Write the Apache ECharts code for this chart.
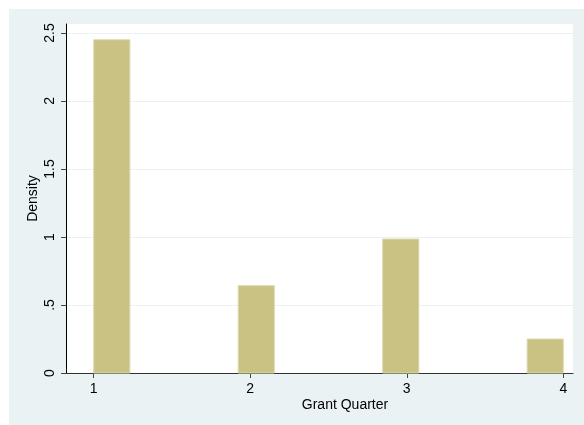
<!DOCTYPE html>
<html>
<head>
<meta charset="utf-8">
<script src="https://cdn.jsdelivr.net/npm/echarts@6/dist/echarts.min.js"></script>
<style>
html,body{margin:0;padding:0;background:#ffffff;}
#chart{width:584px;height:425px;}
</style>
</head>
<body>
<div id="chart"></div>
<script>
// Histogram bins (Grant Quarter) and densities
const binStart = [1, 1.923, 2.846, 3.769];
const binEnd = [1.231, 2.154, 3.077, 4];
const density = [2.45, 0.642, 0.985, 0.25];
const xTicks = [1, 2, 3, 4];
const yTicks = [0, 0.5, 1, 1.5, 2, 2.5];
const xTitle = 'Grant Quarter';
const yTitle = 'Density';

const bars = binStart.map((s, i) => [s, binEnd[i], density[i]]);

function fmtY(v) {
  if (v === 0) return '0';
  let s = String(+v.toFixed(2));
  if (s.startsWith('0.')) s = s.slice(1);
  return s;
}

const chart = echarts.init(document.getElementById('chart'), null, {renderer: 'canvas'});
const font = 'Liberation Sans, Arial, sans-serif';
chart.setOption({
  animation: false,
  backgroundColor: '#ffffff',
  graphic: [
    {type: 'rect', z: -10, shape: {x: 9, y: 9, width: 575, height: 416}, style: {fill: '#EAF2F3'}},
    {type: 'text', x: 345, y: 405, style: {text: xTitle, fontFamily: font, fontSize: 14, fill: '#000', align: 'center', verticalAlign: 'middle'}}
  ],
  grid: {left: 66, right: 11, top: 24, bottom: 52, show: true, backgroundColor: '#ffffff', borderWidth: 0},
  xAxis: {
    type: 'value', min: 0.823, max: 4.062,
    axisLine: {show: true, onZero: false, lineStyle: {color: '#333', width: 1}},
    axisTick: {show: true, length: 5, customValues: xTicks, lineStyle: {color: '#444'}},
    axisLabel: {customValues: xTicks, margin: 9, color: '#000', fontFamily: font, fontSize: 14},
    splitLine: {show: false}
  },
  yAxis: {
    type: 'value', min: 0, max: 2.566,
    name: yTitle, nameLocation: 'middle', nameGap: 33, nameRotate: 90, nameMoveOverlap: false,
    nameTextStyle: {color: '#000', fontFamily: font, fontSize: 14, verticalAlign: 'middle'},
    axisLine: {show: true, onZero: false, lineStyle: {color: '#000', width: 1}},
    axisTick: {show: true, length: 5, customValues: yTicks, lineStyle: {color: '#444'}},
    axisLabel: {customValues: yTicks, rotate: 90, margin: 9, color: '#000', fontFamily: font, fontSize: 14, formatter: fmtY},
    splitLine: {show: true, lineStyle: {color: '#EAF2F3', width: 1}}
  },
  series: [{
    type: 'custom',
    data: bars,
    encode: {x: [0, 1], y: 2},
    renderItem: function (params, api) {
      const p0 = api.coord([api.value(0), api.value(2)]);
      const p1 = api.coord([api.value(1), 0]);
      return {
        type: 'rect',
        shape: {x: p0[0], y: p0[1], width: p1[0] - p0[0], height: p1[1] - p0[1]},
        style: {fill: '#C9C283', stroke: '#DEDAAE', lineWidth: 1}
      };
    }
  }]
});
</script>
</body>
</html>
